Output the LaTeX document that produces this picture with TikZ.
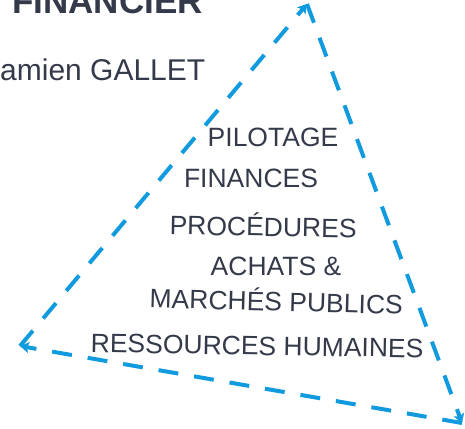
\documentclass[tikz,border=0pt]{standalone}
\usepackage{fontspec}
\setmainfont{Liberation Sans}
\usetikzlibrary{arrows.meta}
\definecolor{azul}{RGB}{17,155,222}
\definecolor{gris}{RGB}{52,58,74}
\begin{document}
\begin{tikzpicture}[x=1pt,y=-1pt,
  borde/.style={azul,line width=4pt,dash pattern=on 20pt off 16pt,-{Stealth[length=9pt,width=11pt,inset=2pt]}},
  texto/.style={gris,inner sep=0pt,anchor=base,font=\fontsize{26.5}{28}\selectfont}] % triángulo del pilotage financier
  \useasboundingbox (0,0) rectangle (465,428);
  \coordinate (v1) at (307,4);
  \coordinate (v2) at (20,346);
  \coordinate (v3) at (462,423);
  \draw[borde] (v2) -- (v1);
  \draw[borde] (v1) -- (v3);
  \draw[borde] (v3) -- (v2);
  \node[texto,anchor=base west,font=\bfseries\fontsize{35}{40}\selectfont] (titulo) at (12,14) {FINANCIER};
  \node[texto,anchor=base west,font=\fontsize{30}{34}\selectfont] (autor) at (0,80) {amien GALLET};
  \node[texto] (pilotage) at (273,146) {PILOTAGE};
  \node[texto] (finances) at (251,187) {FINANCES};
  \node[texto,rotate=-1] (procedures) at (263,236) {PROCÉDURES};
  \node[texto] (achats) at (276,275) {ACHATS \&};
  \node[texto,rotate=-1.5] (marches) at (276,311) {MARCHÉS PUBLICS};
  \node[texto,rotate=-1] (rh) at (257,355) {RESSOURCES HUMAINES};
\end{tikzpicture}
\end{document}
